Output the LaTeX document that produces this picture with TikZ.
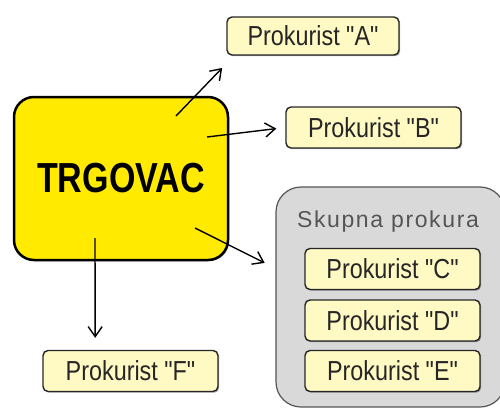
\documentclass[tikz,border=0pt]{standalone}
\usepackage{fontspec}
\setmainfont{Liberation Sans}
\newfontfamily\prokfont[FakeStretch=0.85]{Liberation Sans}
\newfontfamily\trgfont[FakeStretch=0.81]{Liberation Sans}
\newfontfamily\grpfont[LetterSpace=7]{Liberation Sans}
\usetikzlibrary{arrows.meta,shadows}
\definecolor{trgyellow}{RGB}{255,234,0}
\definecolor{prokfill}{RGB}{255,249,196}
\definecolor{grpfill}{RGB}{217,217,217}
\definecolor{grpline}{RGB}{85,85,85}

\begin{document}
\begin{tikzpicture}[x=1pt,y=1pt,->,>={Straight Barb[length=10pt,width=14pt]},line width=1.4pt,
    shade/.style={drop shadow={shadow xshift=1.2pt,shadow yshift=-1.2pt,opacity=0.35,fill=black}},
    prok/.style={shade,draw=black!85,line width=1.4pt,fill=prokfill,rounded corners=5pt,
      minimum width=175pt,minimum height=41pt,inner sep=0pt,text=black!85,
      font=\prokfont\fontsize{27.5}{27.5}\selectfont},
    trader/.style={shade,draw=black,line width=2.5pt,fill=trgyellow,rounded corners=20pt,
      minimum width=214pt,minimum height=163pt,inner sep=0pt,
      font=\trgfont\bfseries\fontsize{42}{42}\selectfont},
    group/.style={draw=grpline,line width=1.2pt,fill=grpfill,rounded corners=25pt,
      minimum width=229pt,minimum height=220pt,inner sep=0pt},
    tip/.style={shorten >=#1}]
    \useasboundingbox (0,0) rectangle (500,408);
    \node (grp) [group] at (390.5,111) {};
    \node (title) at (388,186) {\color{grpline}\grpfont\fontsize{23}{23}\selectfont Skupna prokura};
    \node (trg) [trader] at (121,229.5) {TRGOVAC};
    \node (pa) [prok,minimum width=172pt,minimum height=38pt] at (313,372) {Prokurist "A"};
    \node (pb) [prok] at (373.5,280.5) {Prokurist "B"};
    \node (pc) [prok] at (392.5,139) {Prokurist "C"};
    \node (pd) [prok] at (392.5,87.5) {Prokurist "D"};
    \node (pe) [prok] at (392.5,37) {Prokurist "E"};
    \node (pf) [prok] at (130.5,37) {Prokurist "F"};
    % arrows start inside the trader box
    \coordinate (outA) at (176,292);
    \coordinate (outB) at (207,271);
    \coordinate (outG) at (195,180);
    \coordinate (outF) at (95,170);
    \path
    (outA) edge[tip=17pt] (pa.194)
    (outB) edge[tip=9pt] (pb.west)
    (outG) edge[tip=12pt] (grp.166)
    (outF) edge[tip=12pt] (pf.149)
    ;
  \end{tikzpicture}
\end{document}
